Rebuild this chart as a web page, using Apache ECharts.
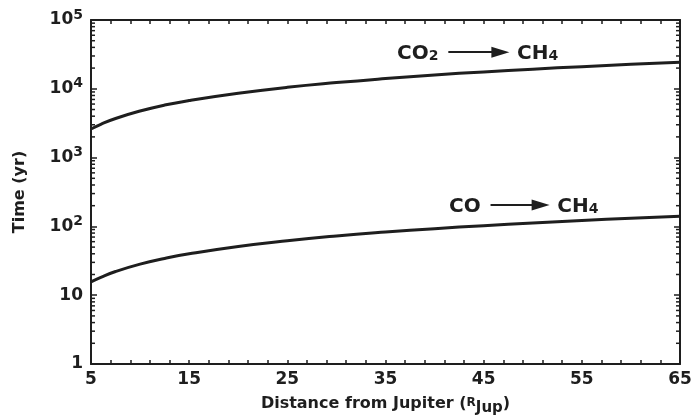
<!DOCTYPE html>
<html>
<head>
<meta charset="utf-8">
<script src="https://cdn.jsdelivr.net/npm/echarts@6/dist/echarts.min.js"></script>
<style>
  html, body { margin: 0; padding: 0; background: #fff; }
  #chart { width: 693px; height: 418px; }
</style>
</head>
<body>
<div id="chart"></div>
<script>
// distance from Jupiter (R_Jup) and conversion timescales (yr)
const distance = [5, 6, 7.5, 10, 12.5, 15, 20, 25, 30, 35, 40, 45, 50, 55, 60, 65]
const co2Time = [2600, 3050, 3700, 4750, 5800, 6750, 8600, 10500, 12300, 14100, 15900, 17600, 19300, 21000, 22700, 24400]
const coTime = [15.6, 18.2, 22.1, 28.3, 34.2, 40, 51.2, 62, 72.6, 82.8, 92.8, 102.6, 112.4, 122, 131.5, 141]

const xTickLabels = [5, 15, 25, 35, 45, 55, 65]
const yTickLabels = ['1', '10', '10{s|2}', '10{s|3}', '10{s|4}', '10{s|5}']
const minorSteps = [2, 3, 4, 5, 6, 7, 8, 9]
const decades = [1, 10, 100, 1000, 10000]

// reaction labels: [arrow start, arrow end, y]
const co2Arrow = [41.4, 47.5, 34000]
const coArrow = [45.7, 51.6, 205]

const ink = '#1e1e1e'
const font = 'DejaVu Sans'

const minorTicks = []
decades.forEach((d) => minorSteps.forEach((s) => minorTicks.push([5, s * d])))

const reactionLabel = (x, y, text, position) => ({
  coord: [x, y],
  symbolSize: 0,
  label: {
    show: true,
    position,
    distance: 0,
    formatter: text,
    color: ink,
    fontFamily: font,
    fontWeight: 'bold',
    fontSize: 20,
    rich: {
      m: { fontFamily: font, fontWeight: 'bold', fontSize: 20, color: ink, lineHeight: 23, verticalAlign: 'bottom' },
      s: { fontFamily: font, fontWeight: 'bold', fontSize: 14, color: ink, lineHeight: 16, verticalAlign: 'bottom' }
    }
  }
})

const reactionSeries = (data, arrow, left) => ({
  type: 'line',
  xAxisIndex: 0,
  yAxisIndex: 0,
  data: distance.map((d, i) => [d, data[i]]),
  showSymbol: false,
  smooth: true,
  lineStyle: { color: ink, width: 3 },
  silent: true,
  markPoint: {
    silent: true,
    symbol: 'circle',
    data: [
      reactionLabel(arrow[0] - 1, arrow[2], left, 'left'),
      reactionLabel(arrow[1] + 0.9, arrow[2], '{m|CH}{s|4}', 'right')
    ]
  },
  markLine: {
    silent: true,
    symbol: ['none', 'triangle'],
    symbolSize: [11, 18],
    label: { show: false },
    lineStyle: { color: ink, width: 2.2, type: 'solid' },
    data: [[{ coord: [arrow[0], arrow[2]] }, { coord: [arrow[1] - 0.8, arrow[2]] }]]
  }
})

const titleRich = {
  t: { fontFamily: font, fontWeight: 'bold', fontSize: 16, color: ink, lineHeight: 20, verticalAlign: 'top' },
  r: { fontFamily: font, fontWeight: 'bold', fontSize: 12, color: ink, lineHeight: 20, verticalAlign: 'top', padding: [1, 0, 0, 0] },
  j: { fontFamily: font, fontWeight: 'bold', fontSize: 15, color: ink, lineHeight: 20, verticalAlign: 'top', padding: [5, 0, 0, 0] }
}

const chart = echarts.init(document.getElementById('chart'))
chart.setOption({
  animation: false,
  grid: { left: 91, right: 13, top: 20, bottom: 54, containLabel: false, outerBoundsMode: 'none' },
  xAxis: [
    {
      type: 'value',
      min: 5,
      max: 65,
      interval: 5,
      position: 'bottom',
      axisLine: { onZero: false, lineStyle: { color: ink, width: 2 } },
      axisTick: { show: false },
      splitLine: { show: false },
      axisLabel: {
        formatter: (v) => (xTickLabels.includes(v) ? String(v) : ''),
        color: ink,
        fontFamily: font,
        fontWeight: 'bold',
        fontSize: 17,
        margin: 7
      },
      name: '{t|Distance from Jupiter (}{r|R}{j|Jup}{t|)}',
      nameLocation: 'middle',
      nameGap: 32,
      nameTextStyle: {
        color: ink,
        fontFamily: font,
        fontWeight: 'bold',
        fontSize: 16,
        rich: titleRich
      }
    },
    {
      // minor ticks every 2 R_Jup, counted from the left edge
      type: 'value',
      min: 0,
      max: 60,
      interval: 2,
      position: 'bottom',
      axisLine: { show: false, onZero: false },
      axisTick: { inside: true, length: 4, lineStyle: { color: ink, width: 1.5 } },
      axisLabel: { show: false },
      splitLine: { show: false }
    },
    {
      type: 'value',
      min: 0,
      max: 60,
      interval: 2,
      position: 'top',
      axisLine: { show: true, onZero: false, lineStyle: { color: ink, width: 2 } },
      axisTick: { inside: true, length: 4, lineStyle: { color: ink, width: 1.5 } },
      axisLabel: { show: false },
      splitLine: { show: false }
    }
  ],
  yAxis: [
    {
      type: 'log',
      logBase: 10,
      min: 1,
      max: 100000,
      position: 'left',
      axisLine: { show: true, onZero: false, lineStyle: { color: ink, width: 2 } },
      axisTick: { inside: true, length: 6, lineStyle: { color: ink, width: 1.5 } },
      splitLine: { show: false },
      axisLabel: {
        formatter: (v) => yTickLabels[Math.round(Math.log10(v))],
        color: ink,
        fontFamily: font,
        fontWeight: 'bold',
        fontSize: 17,
        margin: 8,
        rich: {
          s: { fontFamily: font, fontWeight: 'bold', fontSize: 14, color: ink, verticalAlign: 'bottom', padding: [0, 0, 10, 0] }
        }
      },
      name: 'Time (yr)',
      nameLocation: 'middle',
      nameGap: 63,
      nameTextStyle: { color: ink, fontFamily: font, fontWeight: 'bold', fontSize: 16 }
    },
    {
      type: 'log',
      logBase: 10,
      min: 1,
      max: 100000,
      position: 'right',
      axisLine: { show: true, onZero: false, lineStyle: { color: ink, width: 2 } },
      axisTick: { inside: true, length: 6, lineStyle: { color: ink, width: 1.5 } },
      axisLabel: { show: false },
      splitLine: { show: false }
    }
  ],
  series: [
    reactionSeries(co2Time, co2Arrow, '{m|CO}{s|2}'),
    reactionSeries(coTime, coArrow, '{m|CO}'),
    {
      // log minor ticks on both sides of the box
      type: 'custom',
      xAxisIndex: 0,
      yAxisIndex: 0,
      silent: true,
      data: minorTicks,
      renderItem: (params, api) => {
        const l = api.coord([5, api.value(1)])
        const r = api.coord([65, api.value(1)])
        const style = { stroke: ink, lineWidth: 1.5 }
        return {
          type: 'group',
          children: [
            { type: 'line', shape: { x1: l[0], y1: l[1], x2: l[0] + 4, y2: l[1] }, style },
            { type: 'line', shape: { x1: r[0], y1: r[1], x2: r[0] - 4, y2: r[1] }, style }
          ]
        }
      }
    }
  ]
})
</script>
</body>
</html>
